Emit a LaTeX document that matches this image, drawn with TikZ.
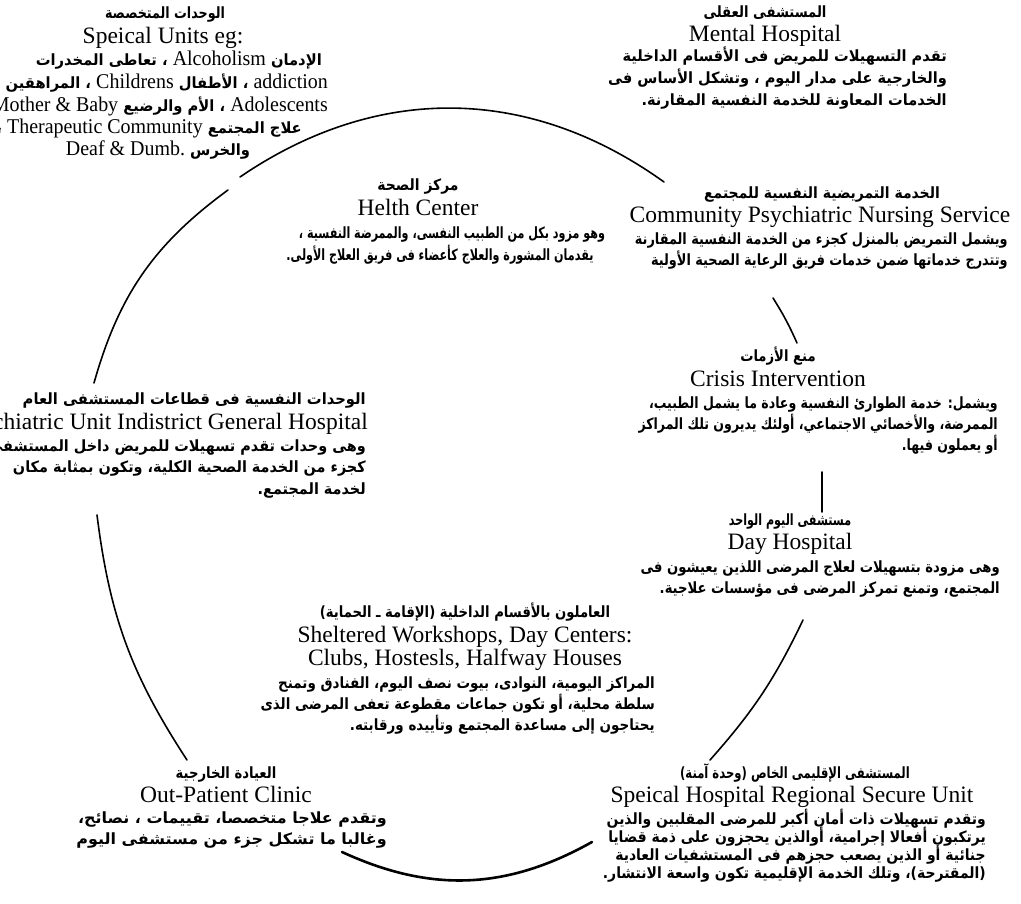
\documentclass[tikz,border=0pt]{standalone}
\usepackage{graphicx}
\usepackage{fontspec}
\setmainfont{Liberation Serif}
\newfontfamily\arfont[Script=Arabic]{DejaVu Sans}
\TeXXeTstate=1
\newcommand\sx[2]{\scalebox{#1}[1]{#2}}
\newcommand\EnW[1]{{\normalfont\fontsize{21}{22}\selectfont\beginL #1\endL}}
\begin{document}
\begin{tikzpicture}[x=1pt,y=-1pt,
  arT/.style={font=\arfont\bfseries\fontsize{15.5}{18}\selectfont, inner sep=0pt, anchor=base},
  arTe/.style={font=\arfont\bfseries\fontsize{15.5}{18}\selectfont, inner sep=0pt, anchor=base east},
  arB/.style={font=\arfont\bfseries\fontsize{15.5}{18}\selectfont, inner sep=0pt, anchor=base east},
  arC/.style={font=\arfont\bfseries\fontsize{15.5}{18}\selectfont, inner sep=0pt, anchor=base},
  enT/.style={font=\fontsize{23.5}{22}\selectfont, inner sep=0pt, anchor=base},
  enTe/.style={font=\fontsize{23.5}{22}\selectfont, inner sep=0pt, anchor=base east},
  link/.style={line width=1.6pt, line cap=round}]
\useasboundingbox (0,0) rectangle (1021,904);
\fill[white] (0,0) rectangle (1021,904);
\clip (0,0) rectangle (1021,904);

% Speical Units
\node[arT] (suA) at (165,19) {\sx{0.82}{\beginR الوحدات المتخصصة\endR}};
\node[enT] (suE) at (163,44) {Speical Units eg:};
\node[arB] (su1) at (322,66) {\sx{0.95}{\beginR الإدمان \EnW{Alcoholism} ، تعاطى المخدرات\endR}};
\node[arB] (su2) at (328,89) {\sx{0.95}{\beginR \EnW{addiction} ، الأطفال \EnW{Childrens} ، المراهقين\endR}};
\node[arB] (su3) at (328,112) {\sx{0.95}{\beginR \EnW{Adolescents} ، الأم والرضيع \EnW{Mother \& Baby}\endR}};
\node[arB] (su4) at (302,134) {\sx{0.95}{\beginR علاج المجتمع \EnW{Therapeutic Community} ،\endR}};
\node[arC] (su5) at (158,156) {\sx{0.95}{\beginR والخرس \EnW{Deaf \& Dumb.}\endR}};

% Mental Hospital
\node[arT] (mhA) at (765,18) {\sx{0.85}{\beginR المستشفى العقلى\endR}};
\node[enT] (mhE) at (765,42) {Mental Hospital};
\node[arB] (mh1) at (947,62) {\sx{0.94}{\beginR تقدم التسهيلات للمريض فى الأقسام الداخلية\endR}};
\node[arB] (mh2) at (947,84) {\sx{0.94}{\beginR والخارجية على مدار اليوم ، وتشكل الأساس فى\endR}};
\node[arB] (mh3) at (947,106) {\sx{0.94}{\beginR الخدمات المعاونة للخدمة النفسية المقارنة.\endR}};

% Helth Center
\node[arT] (hcA) at (418,191) {\sx{0.9}{\beginR مركز الصحة\endR}};
\node[enT] (hcE) at (418,216) {Helth Center};
\node[arC] (hc1) at (452,239) {\sx{0.72}{\beginR وهو مزود بكل من الطبيب النفسى، والممرضة النفسية ،\endR}};
\node[arC] (hc2) at (440,261) {\sx{0.72}{\beginR يقدمان المشورة والعلاج كأعضاء فى فريق العلاج الأولى.\endR}};

% Community Psychiatric Nursing Service
\node[arT] (cpA) at (822,199) {\sx{0.9}{\beginR الخدمة التمريضية النفسية للمجتمع\endR}};
\node[enT] (cpE) at (820,223) {Community Psychiatric Nursing Service};
\node[arB] (cp1) at (1008,245) {\sx{0.83}{\beginR ويشمل التمريض بالمنزل كجزء من الخدمة النفسية المقارنة\endR}};
\node[arB] (cp2) at (1008,266) {\sx{0.83}{\beginR وتتدرج خدماتها ضمن خدمات فريق الرعاية الصحية الأولية\endR}};

% Crisis Intervention
\node[arT] (ciA) at (778,362) {\sx{0.85}{\beginR منع الأزمات\endR}};
\node[enT] (ciE) at (778,386) {Crisis Intervention};
\node[arB] (ci1) at (998,408) {\sx{0.81}{\beginR ويشمل: خدمة الطوارئ النفسية وعادة ما يشمل الطبيب،\endR}};
\node[arB] (ci2) at (998,429) {\sx{0.81}{\beginR الممرضة، والأخصائي الاجتماعي، أولئك يديرون تلك المراكز\endR}};
\node[arB] (ci3) at (998,450) {\sx{0.81}{\beginR أو يعملون فيها.\endR}};

% Psychiatric Unit in District General Hospital
\node[arTe] (luA) at (366,404) {\sx{0.95}{\beginR الوحدات النفسية فى قطاعات المستشفى العام\endR}};
\node[enTe] (luE) at (368,429) {Psychiatric Unit Indistrict General Hospital};
\node[arB] (lu1) at (366,451) {\sx{0.93}{\beginR وهى وحدات تقدم تسهيلات للمريض داخل المستشفى\endR}};
\node[arB] (lu2) at (366,472) {\sx{0.93}{\beginR كجزء من الخدمة الصحية الكلية، وتكون بمثابة مكان\endR}};
\node[arB] (lu3) at (366,494) {\sx{0.93}{\beginR لخدمة المجتمع.\endR}};

% Day Hospital
\node[arT] (dhA) at (790,525) {\sx{0.72}{\beginR مستشفى اليوم الواحد\endR}};
\node[enT] (dhE) at (790,549) {Day Hospital};
\node[arB] (dh1) at (1000,572) {\sx{0.85}{\beginR وهى مزودة بتسهيلات لعلاج المرضى اللذين يعيشون فى\endR}};
\node[arB] (dh2) at (1000,593) {\sx{0.85}{\beginR المجتمع، وتمنع تمركز المرضى فى مؤسسات علاجية.\endR}};

% Sheltered Workshops
\node[arT] (swA) at (465,617) {\sx{0.85}{\beginR العاملون بالأقسام الداخلية (الإقامة ـ الحماية)\endR}};
\node[enT] (swE1) at (465,642) {Sheltered Workshops, Day Centers:};
\node[enT] (swE2) at (465,665) {Clubs, Hostesls, Halfway Houses};
\node[arB] (sw1) at (655,688) {\sx{0.87}{\beginR المراكز اليومية، النوادى، بيوت نصف اليوم، الفنادق وتمنح\endR}};
\node[arB] (sw2) at (655,709) {\sx{0.87}{\beginR سلطة محلية، أو تكون جماعات مقطوعة تعفى المرضى الذى\endR}};
\node[arB] (sw3) at (655,730) {\sx{0.87}{\beginR يحتاجون إلى مساعدة المجتمع وتأييده ورقابته.\endR}};

% Out-Patient Clinic
\node[arT] (opA) at (226,778) {\sx{0.85}{\beginR العيادة الخارجية\endR}};
\node[enT] (opE) at (226,802) {Out-Patient Clinic};
\node[arB] (op1) at (387,823) {\sx{1.03}{\beginR وتقدم علاجا متخصصا، تقييمات ، نصائح،\endR}};
\node[arB] (op2) at (387,844) {\sx{1.03}{\beginR وغالبا ما تشكل جزء من مستشفى اليوم\endR}};

% Speical Hospital Regional Secure Unit
\node[arT] (shA) at (795,778) {\sx{0.75}{\beginR المستشفى الإقليمى الخاص (وحدة آمنة)\endR}};
\node[enT] (shE) at (792,802) {Speical Hospital Regional Secure Unit};
\node[arB] (sh1) at (986,824) {\sx{0.9}{\beginR وتقدم تسهيلات ذات أمان أكبر للمرضى المقلبين والذين\endR}};
\node[arB] (sh2) at (986,842) {\sx{0.9}{\beginR يرتكبون أفعالا إجرامية، أوالذين يحجزون على ذمة قضايا\endR}};
\node[arB] (sh3) at (986,860) {\sx{0.9}{\beginR جنائية أو الذين يصعب حجزهم فى المستشفيات العادية\endR}};
\node[arB] (sh4) at (986,878) {\sx{0.9}{\beginR (المقترحة)، وتلك الخدمة الإقليمية تكون واسعة الانتشار.\endR}};

% connector end points
\coordinate (t1) at (240,177);
\coordinate (t2) at (664,182);
\coordinate (l1) at (228,190);
\coordinate (l2) at (94,383);
\coordinate (r1) at (773,298);
\coordinate (r2) at (797,343);
\coordinate (d1) at (822,472);
\coordinate (d2) at (822,512);
\coordinate (s1) at (803,620);
\coordinate (s2) at (710,760);
\coordinate (b1) at (342,852);
\coordinate (b2) at (592,842);
\coordinate (o1) at (97,515);
\coordinate (o2) at (187,760);

\draw[link] (t1) to[bend left=35] (t2);
\draw[link] (l1) to[bend right=19] (l2);
\draw[link] (r1) to[bend left=4] (r2);
\draw[link] (d1) -- (d2);
\draw[link] (s1) to[bend left=8] (s2);
\draw[link, line width=2.6pt] (b1) to[bend right=27] (b2);
\draw[link] (o1) to[bend right=13] (o2);
\end{tikzpicture}
\end{document}
